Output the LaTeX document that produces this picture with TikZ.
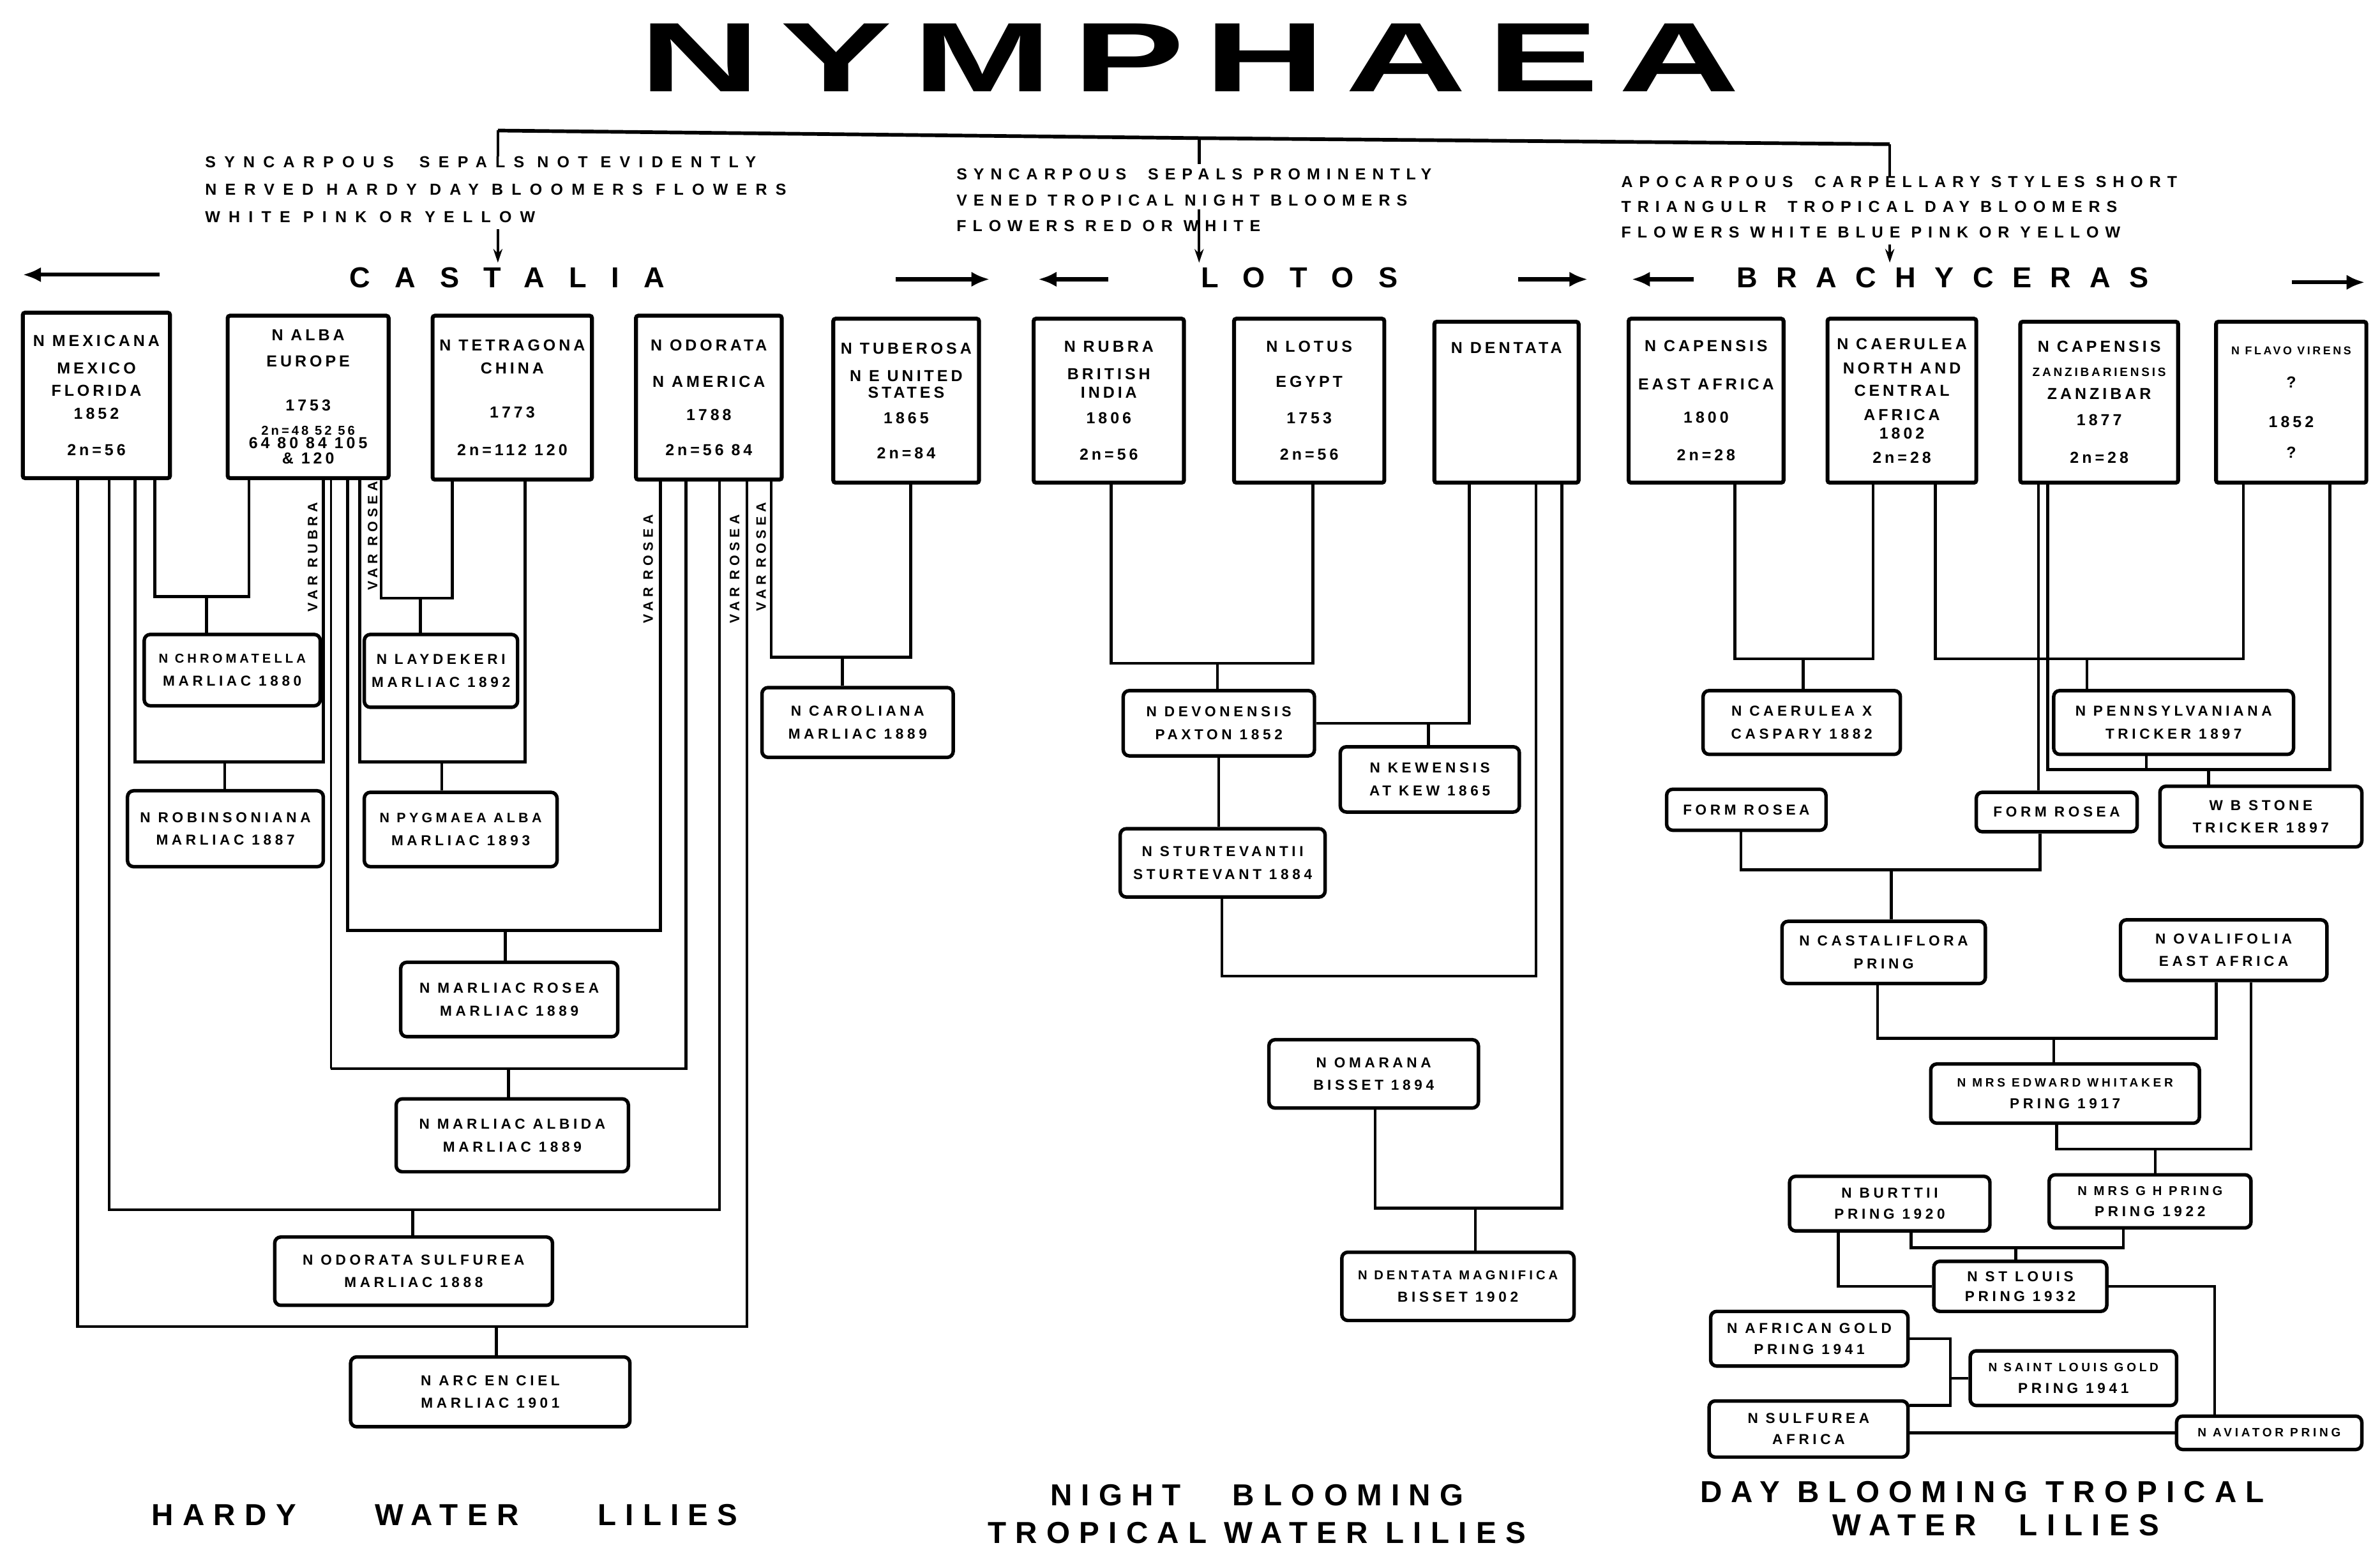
\documentclass[tikz,border=0pt]{standalone}
\usepackage{fontspec}
\setmainfont{Liberation Sans}
\newfontfamily\boxfont[LetterSpace=20]{Liberation Sans}
\newfontfamily\hyfont[LetterSpace=25]{Liberation Sans}
\newfontfamily\descfont[LetterSpace=40]{Liberation Sans}
\newfontfamily\descfontb[LetterSpace=53]{Liberation Sans}
\newfontfamily\genusfont[LetterSpace=85]{Liberation Sans}
\newfontfamily\genusfontb[LetterSpace=65]{Liberation Sans}
\newfontfamily\labfont[LetterSpace=30]{Liberation Sans}
\newfontfamily\varfont[LetterSpace=30]{Liberation Sans}
\newfontfamily\titlefont[LetterSpace=12]{Liberation Sans}
\usetikzlibrary{arrows.meta}
\tikzset{
  sp/.style={draw, line width=2.6pt, rounded corners=1.5pt, inner sep=0pt, align=center,
             font=\boxfont\bfseries\fontsize{10.5}{12}\selectfont},
  hy/.style={draw, line width=2.3pt, rounded corners=4pt, inner sep=0pt, align=center,
             font=\hyfont\bfseries\fontsize{9.5}{11}\selectfont},
  ln/.style={line width=1.9pt},
  thinln/.style={line width=1.2pt},
  desc/.style={anchor=north west, inner sep=0pt, align=left},
  genus/.style={inner sep=0pt, font=\genusfont\bfseries\fontsize{19}{22}\selectfont},
  garrow/.style={line width=2.6pt, -{Latex[length=12pt,width=10pt]}},
  varrow/.style={line width=1.8pt, -{Stealth[length=9pt,width=6pt]}},
  varlab/.style={rotate=90, inner sep=0pt, font=\varfont\bfseries\fontsize{9}{10}\selectfont},
  lab/.style={inner sep=0pt, font=\labfont\bfseries\fontsize{20}{24}\selectfont},
}
\begin{document}
\begin{tikzpicture}[x=1pt,y=-1pt]
\fill[white] (0,0) rectangle (1568,1021);
\useasboundingbox (0,0) rectangle (1568,1021);

% ---------- title ----------
\node[inner sep=0pt] (title) at (784,38) {\titlefont\bfseries\fontsize{65}{70}\selectfont\scalebox{1.7}[1]{NYMPHAEA}};

% ---------- descriptions ----------
\node[desc, font=\descfontb\bfseries\fontsize{10.5}{18}\selectfont] (dl) at (135,103)
  {SYNCARPOUS~ SEPALS NOT EVIDENTLY\\NERVED HARDY DAY BLOOMERS FLOWERS\\WHITE PINK OR YELLOW};
\node[desc, font=\descfont\bfseries\fontsize{10.5}{17}\selectfont] (dm) at (630,111)
  {SYNCARPOUS~ SEPALS PROMINENTLY\\VENED TROPICAL NIGHT BLOOMERS\\FLOWERS RED OR WHITE};
\node[desc, font=\descfont\bfseries\fontsize{10.5}{16.5}\selectfont] (dr) at (1068,116)
  {APOCARPOUS~ CARPELLARY STYLES SHORT\\TRIANGULR~ TROPICAL DAY BLOOMERS\\FLOWERS WHITE BLUE PINK OR YELLOW};

% ---------- genus labels ----------
\node[genus] (gc) at (334,183) {CASTALIA};
\node[genus] (gl) at (856,183) {LOTOS};
\node[genus, font=\genusfontb\bfseries\fontsize{19}{22}\selectfont] (gb) at (1280,183) {BRACHYCERAS};

% top bracket
\coordinate (tl) at (328,86);
\coordinate (tm) at (790,91);
\coordinate (tr) at (1245,95);
\draw[line width=2.4pt] (tl) -- (tm) -- (tr);
\draw[ln] (tl) -- (tl |- dl.north);
\draw[ln] (tm) -- (790,108);
\draw[ln] (tr) -- (tr |- dr.north);
\coordinate (lv) at (328,151);
\coordinate (mv) at (790,138);
\coordinate (rv) at (1245,161);
\draw[varrow] (lv) -- ([yshift=3pt]gc.north -| lv);
\draw[varrow] (mv) -- ([yshift=3pt]gl.north -| mv);
\draw[varrow] (rv) -- ([yshift=3pt]gb.north -| rv);

% genus arrows
\coordinate (a1s) at (105,181); \coordinate (a1e) at (15,181);
\coordinate (a2s) at (590,184); \coordinate (a2e) at (652,184);
\coordinate (a3s) at (730,184); \coordinate (a3e) at (684,184);
\coordinate (a4s) at (1000,184); \coordinate (a4e) at (1046,184);
\coordinate (a5s) at (1116,184); \coordinate (a5e) at (1075,184);
\coordinate (a6s) at (1510,186); \coordinate (a6e) at (1558,186);
\foreach \s/\e in {a1s/a1e,a2s/a2e,a3s/a3e,a4s/a4e,a5s/a5e,a6s/a6e}
  \draw[garrow] (\s) -- (\e);

% ---------- species boxes ----------
\node[sp, minimum width=97, minimum height=109] (b1) at (63.5,260.5)
  {N MEXICANA\\[6pt]MEXICO\\[3pt]FLORIDA\\[3pt]1852\\[12pt]2n=56};
\node[sp, minimum width=106, minimum height=107] (b2) at (203,261.5)
  {N ALBA\\[5pt]EUROPE\\[17pt]1753\\[4pt]\fontsize{8.5}{12}\selectfont 2n=48 52 56\\[-3pt]64 80 84 105\\[-2pt]\& 120};
\node[sp, minimum width=105, minimum height=108] (b3) at (337.5,262)
  {N TETRAGONA\\[3pt]CHINA\\[17pt]1773\\[13pt]2n=112 120};
\node[sp, minimum width=96, minimum height=108] (b4) at (467,262)
  {N ODORATA\\[12pt]N AMERICA\\[10pt]1788\\[11pt]2n=56 84};
\node[sp, minimum width=96, minimum height=108] (b5) at (597,264)
  {N TUBEROSA\\[6pt]N E UNITED\\[-1pt]STATES\\[5pt]1865\\[11pt]2n=84};
\node[sp, minimum width=99, minimum height=108] (l1) at (730.5,264)
  {N RUBRA\\[6pt]BRITISH\\[0pt]INDIA\\[5pt]1806\\[12pt]2n=56};
\node[sp, minimum width=99, minimum height=108] (l2) at (862.5,264)
  {N LOTUS\\[11pt]EGYPT\\[12pt]1753\\[12pt]2n=56};
\node[sp, minimum width=95, minimum height=106] (l3) at (992.5,265)
  {N DENTATA\\[60pt]\mbox{}};
\node[sp, minimum width=102, minimum height=108] (c1) at (1124,264)
  {N CAPENSIS\\[13pt]EAST AFRICA\\[10pt]1800\\[13pt]2n=28};
\node[sp, minimum width=98, minimum height=108] (c2) at (1253,264)
  {N CAERULEA\\[4pt]NORTH AND\\[3pt]CENTRAL\\[4pt]AFRICA\\[0pt]1802\\[4pt]2n=28};
\node[sp, minimum width=104, minimum height=106] (c3) at (1383,265)
  {N CAPENSIS\\[4pt]\fontsize{8}{12}\selectfont ZANZIBARIENSIS\\[3pt]\fontsize{10.5}{12}\selectfont ZANZIBAR\\[5pt]1877\\[13pt]2n=28};
\node[sp, minimum width=99, minimum height=106] (c4) at (1509.5,265)
  {\fontsize{7.5}{12}\selectfont N FLAVO VIRENS\\[10pt]\fontsize{10.5}{12}\selectfont ?\\[14pt]1852\\[8pt]?};

% ---------- Castalia hybrids ----------
\node[hy, minimum width=116, minimum height=47] (h1) at (153,441.5)
  {\fontsize{8.5}{11}\selectfont N CHROMATELLA\\[4pt]MARLIAC 1880};
\node[hy, minimum width=101, minimum height=48] (h2) at (290.5,442)
  {N LAYDEKERI\\[4pt]MARLIAC 1892};
\node[hy, minimum width=129, minimum height=50] (h3) at (148.5,546)
  {N ROBINSONIANA\\[4pt]MARLIAC 1887};
\node[hy, minimum width=127, minimum height=49] (h4) at (303.5,546.5)
  {\fontsize{9}{11}\selectfont N PYGMAEA ALBA\\[4pt]MARLIAC 1893};
\node[hy, minimum width=143, minimum height=49] (h5) at (335.5,658.5)
  {N MARLIAC ROSEA\\[4pt]MARLIAC 1889};
\node[hy, minimum width=153, minimum height=48] (h6) at (337.5,748)
  {N MARLIAC ALBIDA\\[4pt]MARLIAC 1889};
\node[hy, minimum width=183, minimum height=45] (h7) at (272.5,837.5)
  {N ODORATA SULFUREA\\[4pt]MARLIAC 1888};
\node[hy, minimum width=184, minimum height=46] (h8) at (323,917)
  {N ARC EN CIEL\\[4pt]MARLIAC 1901};
\node[hy, minimum width=126, minimum height=46] (h9) at (565,476)
  {N CAROLIANA\\[4pt]MARLIAC 1889};

% ---------- Lotos hybrids ----------
\node[hy, minimum width=126, minimum height=43] (d1) at (803,476.5)
  {N DEVONENSIS\\[4pt]PAXTON 1852};
\node[hy, minimum width=118, minimum height=43] (d2) at (942,513.5)
  {N KEWENSIS\\[4pt]AT KEW 1865};
\node[hy, minimum width=135, minimum height=45] (d3) at (805.5,568.5)
  {N STURTEVANTII\\[4pt]STURTEVANT 1884};
\node[hy, minimum width=138, minimum height=45] (d4) at (905,707.5)
  {N OMARANA\\[4pt]BISSET 1894};
\node[hy, minimum width=153, minimum height=45] (d5) at (960.5,847.5)
  {\fontsize{8.5}{11}\selectfont N DENTATA MAGNIFICA\\[4pt]BISSET 1902};

% ---------- Brachyceras hybrids ----------
\node[hy, minimum width=130, minimum height=42] (e1) at (1187,476)
  {N CAERULEA X\\[4pt]CASPARY 1882};
\node[hy, minimum width=158, minimum height=42] (e2) at (1432,476)
  {N PENNSYLVANIANA\\[4pt]TRICKER 1897};
\node[hy, minimum width=105, minimum height=27] (e3) at (1150.5,533.5) {FORM ROSEA};
\node[hy, minimum width=106, minimum height=26] (e4) at (1355,535) {FORM ROSEA};
\node[hy, minimum width=133, minimum height=40] (e5) at (1489.5,538)
  {W B STONE\\[4pt]TRICKER 1897};
\node[hy, minimum width=134, minimum height=41] (e6) at (1241,627.5)
  {N CASTALIFLORA\\[4pt]PRING};
\node[hy, minimum width=136, minimum height=40] (e7) at (1465,626)
  {N OVALIFOLIA\\[4pt]EAST AFRICA};
\node[hy, minimum width=177, minimum height=39] (e8) at (1360.5,720.5)
  {\fontsize{8}{11}\selectfont N MRS EDWARD WHITAKER\\[3pt]PRING 1917};
\node[hy, minimum width=132, minimum height=36] (e9) at (1245,793)
  {N BURTTII\\[3pt]PRING 1920};
\node[hy, minimum width=133, minimum height=35] (e10) at (1416.5,791.5)
  {\fontsize{8.5}{11}\selectfont N MRS G H PRING\\[3pt]PRING 1922};
\node[hy, minimum width=114, minimum height=33] (e11) at (1331,847.5)
  {N ST LOUIS\\[2pt]PRING 1932};
\node[hy, minimum width=130, minimum height=36] (e12) at (1192,882)
  {N AFRICAN GOLD\\[3pt]PRING 1941};
\node[hy, minimum width=136, minimum height=36] (e13) at (1366,908)
  {\fontsize{8}{11}\selectfont N SAINT LOUIS GOLD\\[3pt]PRING 1941};
\node[hy, minimum width=131, minimum height=37] (e14) at (1191.5,941.5)
  {N SULFUREA\\[3pt]AFRICA};
\node[hy, minimum width=122, minimum height=22] (e15) at (1495,944)
  {\fontsize{8}{11}\selectfont N AVIATOR PRING};

% ---------- Castalia connectors ----------
\coordinate (j1) at (136,393);
\draw[ln] (b1.south -| 102,0) |- (j1) -| (b2.south -| 164,0);
\draw[ln] (j1) -- (h1.north -| j1);
\coordinate (j2) at (148,502);
\draw[ln] (b1.south -| 89,0) |- (j2) -| (b2.south -| 213,0);
\draw[ln] (j2) -- (h3.north -| j2);
\coordinate (j3) at (277,394);
\draw[ln] (b2.south -| 251,0) |- (j3) -| (b3.south -| 298,0);
\draw[ln] (j3) -- (h2.north -| j3);
\coordinate (j4) at (291,502);
\draw[ln] (b2.south -| 237,0) |- (j4) -| (b3.south -| 346,0);
\draw[ln] (j4) -- (h4.north -| j4);
\coordinate (j5) at (333,613);
\draw[ln] (b2.south -| 229,0) |- (j5) -| (b4.south -| 435,0);
\draw[ln] (j5) -- (h5.north -| j5);
\coordinate (j6) at (335,704);
\coordinate (j6l) at (218,704);
\draw[thinln] (b2.south -| 218,0) -- (j6l);
\draw[ln] (j6l) -- (j6) -| (b4.south -| 452,0);
\draw[ln] (j6) -- (h6.north -| j6);
\coordinate (j7) at (272,797);
\draw[ln] (b1.south -| 72,0) |- (j7) -| (b4.south -| 474,0);
\draw[ln] (j7) -- (h7.north -| j7);
\coordinate (j8) at (327,874);
\draw[ln] (b1.south -| 51,0) |- (j8) -| (b4.south -| 492,0);
\draw[ln] (j8) -- (h8.north -| j8);
\coordinate (j9) at (555,433);
\draw[ln] (b4.south -| 508,0) |- (j9) -| (b5.south -| 600,0);
\draw[ln] (j9) -- (h9.north -| j9);

\node[varlab] (v1) at (206,367) {VAR RUBRA};
\node[varlab] (v2) at (245.5,353) {VAR ROSEA};
\node[varlab] (v3) at (427,375) {VAR ROSEA};
\node[varlab] (v4) at (484,375) {VAR ROSEA};
\node[varlab] (v5) at (501.5,367) {VAR ROSEA};

% ---------- Lotos connectors ----------
\coordinate (k1) at (802,437);
\draw[ln] (l1.south -| 732,0) |- (k1) -| (l2.south -| 865,0);
\draw[ln] (k1) -- (d1.north -| k1);
\coordinate (k2) at (941,476.5);
\draw[ln] (d1.east) -- (k2) -| (l3.south -| 968,0);
\draw[ln] (k2) -- (d2.north -| k2);
\draw[ln] (d1.south) -- (d3.north -| d1.south);
\coordinate (k3) at (805,643);
\draw[ln] (d3.south -| k3) -- (k3) -| (l3.south -| 1012,0);
\coordinate (k4) at (972,796);
\draw[ln] (d4.south -| 906,0) |- (k4) -| (l3.south -| 1029,0);
\draw[ln] (k4) -- (d5.north -| k4);

% ---------- Brachyceras connectors ----------
\coordinate (m1) at (1188,434);
\draw[ln] (c1.south -| 1143,0) |- (m1) -| (c2.south -| 1234,0);
\draw[ln] (m1) -- (e1.north -| m1);
\coordinate (m2) at (1375,434);
\draw[ln] (c2.south -| 1275,0) |- (m2) -| (c4.south -| 1478,0);
\draw[ln] (m2) -- (e2.north -| m2);
\draw[ln] (c3.south -| 1343,0) -- (e4.north -| 1343,0);
\coordinate (m3) at (1455,507);
\draw[ln] (c3.south -| 1349,0) |- (m3) -| (c4.south -| 1535,0);
\draw[ln] (e2.south -| 1414,0) -- (m3 -| 1414,0);
\draw[ln] (m3) -- (e5.north -| m3);
\coordinate (m4) at (1246,573);
\draw[ln] (e3.south -| 1147,0) |- (m4) -| (e4.south -| 1344,0);
\draw[ln] (m4) -- (e6.north -| m4);
\coordinate (m5) at (1353,684);
\draw[ln] (e6.south -| 1237,0) |- (m5) -| (e7.south -| 1460,0);
\draw[ln] (m5) -- (e8.north -| m5);
\coordinate (m6) at (1420,757);
\draw[ln] (e8.south -| 1355,0) |- (m6) -| (e7.south -| 1483,0);
\draw[ln] (m6) -- (e10.north -| m6);
\coordinate (m7) at (1328,822);
\draw[ln] (e9.south -| 1259,0) |- (m7) -| (e10.south -| 1399,0);
\draw[ln] (m7) -- (e11.north -| m7);
\draw[ln] (e9.south -| 1211,0) |- (e11.west);
\draw[ln] (e11.east) -| (e15.north -| 1459,0);
\coordinate (m8) at (1285,908);
\coordinate (m9) at (1285,926);
\draw[ln] (e12.east) -| (m9) -- (e14.east |- m9);
\draw[ln] (m8) -- (e13.west);
\draw[ln] (e14.east |- e15.west) -- (e15.west);

% ---------- bottom labels ----------
\node[lab] (hw) at (293,998) {HARDY\hspace{52pt}WATER\hspace{52pt}LILIES};
\node[lab] (nb1) at (828,985) {NIGHT\hspace{34pt}BLOOMING};
\node[lab] (nb2) at (828,1010) {TROPICAL WATER LILIES};
\node[lab] (db1) at (1306,983) {DAY BLOOMING TROPICAL};
\node[lab] (db2) at (1315,1005) {WATER\hspace{28pt}LILIES};
\end{tikzpicture}
\end{document}
